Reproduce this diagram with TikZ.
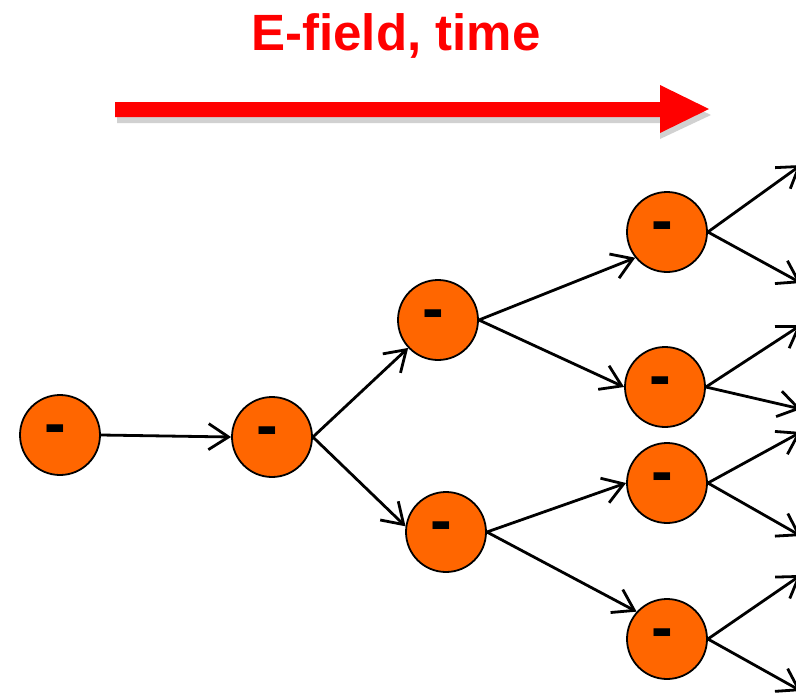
\documentclass[tikz,border=0pt]{standalone}
\usepackage{fontspec}
\setmainfont{Liberation Sans}
\usetikzlibrary{arrows.meta}
\definecolor{eorange}{RGB}{255,102,0}
\begin{document}
\begin{tikzpicture}[x=1pt,y=-1pt,
  electron/.style={circle, draw=black, line width=1.8pt, fill=eorange, minimum size=80pt, inner sep=0pt},
  minus/.style={font=\fontsize{65}{65}\selectfont\bfseries, text=black, inner sep=0pt, anchor=base},
  conn/.style={line width=2.8pt, -{Straight Barb[length=20pt,width=26pt]}},
  titlestyle/.style={font=\fontsize{51}{61}\selectfont\bfseries, text=red, inner sep=0pt, anchor=base},
]
\useasboundingbox (0,0) rectangle (796,694);
\clip (0,0) rectangle (796,694);

% title and field arrow
\node[titlestyle] (title) at (396,50) {E-field, time};
\fill[black, opacity=0.18] (117,108) -- (660,108) -- (660,91) -- (711,115) -- (660,139) -- (660,123) -- (117,123) -- cycle;
\fill[red] (115,102) -- (660,102) -- (660,85) -- (709,109) -- (660,133) -- (660,117) -- (115,117) -- cycle;

% electrons
\node[electron] (c1) at (60,435) {};
\node[electron] (c2) at (272,437) {};
\node[electron] (c3) at (438,320) {};
\node[electron] (c4) at (446,532) {};
\node[electron] (c5) at (667,232) {};
\node[electron] (c6) at (665,387) {};
\node[electron] (c7) at (667,483) {};
\node[electron] (c8) at (667,639) {};

\foreach \c in {c1,c2,c3,c4,c5,c6,c7,c8}
  \node[minus] (m\c) at ([shift={(-5,10)}]\c.center) {-};

% off-page targets
\coordinate (e1) at (801,165);
\coordinate (e2) at (801,283);
\coordinate (e3) at (801,325);
\coordinate (e4) at (801,409);
\coordinate (e5) at (801,432);
\coordinate (e6) at (801,536);
\coordinate (e7) at (801,575);
\coordinate (e8) at (801,691);

% connectors
\draw[conn] (c1.east) -- (c2.west);
\draw[conn] (c2.east) -- (c3);
\draw[conn] (c2.east) -- (c4.172);
\draw[conn] (c3.east) -- (c5.219);
\draw[conn] (c3.east) -- (c6.west);
\draw[conn] (c4.east) -- (c7.west);
\draw[conn] (c4.east) -- (c8.138);
\draw[conn] (c5.east) -- (e1);
\draw[conn] (c5.east) -- (e2);
\draw[conn] (c6.east) -- (e3);
\draw[conn] (c6.east) -- (e4);
\draw[conn] (c7.east) -- (e5);
\draw[conn] (c7.east) -- (e6);
\draw[conn] (c8.east) -- (e7);
\draw[conn] (c8.east) -- (e8);
\end{tikzpicture}
\end{document}
